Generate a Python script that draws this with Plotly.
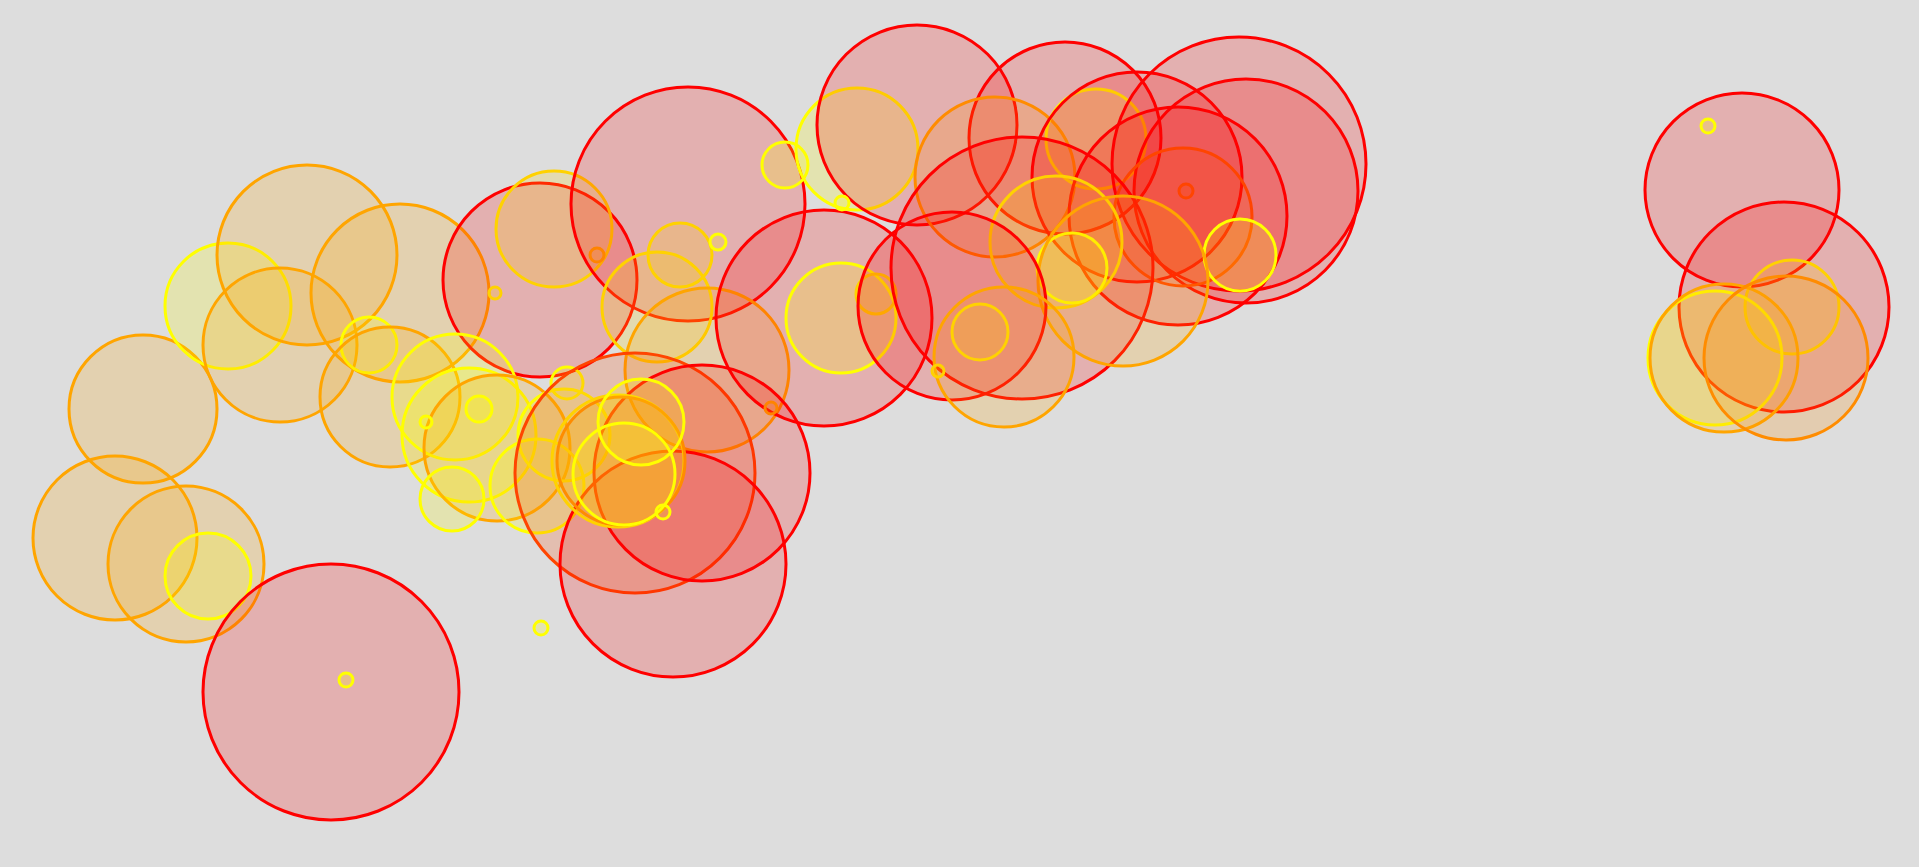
import plotly.graph_objects as go

# bubble positions (x, y), bubble radius value and tier of each bubble
x = [14.3, 11.5, 18.6, 20.8, 33.1, 34.6, 22.8, 30.7, 28.0, 40.0,
     36.9, 39.0, 54.0, 55.4, 59.7, 49.5, 68.8, 68.0, 71.8, 65.7,
     70.7, 82.4, 84.1, 87.6, 78.5, 85.7, 91.7, 106.5, 84.2, 99.5,
     109.6, 113.7, 123.9, 124.6, 117.8, 118.3, 118.6, 124.0, 102.2, 105.6,
     107.2, 112.3, 95.2, 100.4, 98.0, 93.8, 77.1, 45.5, 46.9, 49.7,
     47.9, 42.6, 45.2, 53.7, 56.7, 56.4, 63.5, 70.2, 67.3, 61.8,
     62.1, 64.1, 62.4, 66.3, 54.1, 174.2, 170.8, 178.4, 179.2, 171.5,
     172.4, 178.6]
y = [45.8, 32.9, 30.3, 29.1, 17.5, 18.7, 56.1, 61.2, 52.2, 57.4,
     52.2, 47.0, 58.7, 63.8, 61.2, 57.4, 66.3, 61.2, 62.5, 56.0,
     49.7, 54.9, 54.9, 57.3, 70.2, 71.8, 74.2, 72.9, 66.4, 69.0,
     72.8, 69.0, 70.3, 67.6, 65.1, 65.0, 67.6, 61.2, 59.9, 62.5,
     59.9, 58.6, 56.1, 51.0, 53.5, 49.6, 45.9, 47.0, 43.2, 41.9,
     45.8, 44.5, 36.8, 38.1, 48.4, 43.2, 39.4, 39.4, 30.3, 40.6,
     40.6, 44.5, 39.3, 35.5, 23.9, 67.7, 74.1, 56.0, 56.0, 50.9,
     50.9, 50.9]
value = [7.4, 8.2, 7.8, 4.3, 12.8, 0.7, 6.3, 9.0, 7.7, 8.9,
         2.8, 7.0, 9.7, 5.8, 0.7, 0.6, 11.7, 3.2, 0.8, 5.5,
         8.2, 10.8, 5.5, 2.0, 2.3, 6.1, 10.0, 9.6, 0.7, 8.0,
         5.0, 10.5, 12.7, 11.2, 10.9, 6.9, 0.7, 3.6, 13.1, 6.6,
         3.5, 8.5, 9.4, 7.0, 2.8, 0.6, 0.6, 6.3, 6.7, 7.3,
         1.3, 0.6, 3.2, 4.7, 1.6, 4.6, 12.0, 10.8, 11.3, 6.6,
         6.4, 4.3, 5.1, 0.7, 0.7, 9.7, 0.7, 10.5, 4.7, 6.7,
         7.4, 8.2]
tier = [3, 3, 3, 5, 0, 5, 5, 3, 3, 3,
        5, 3, 0, 4, 3, 4, 0, 4, 5, 4,
        3, 0, 5, 4, 5, 5, 0, 0, 5, 2,
        5, 0, 0, 0, 0, 1, 1, 5, 0, 4,
        5, 3, 0, 3, 4, 4, 3, 5, 5, 3,
        5, 5, 5, 5, 5, 5, 1, 0, 0, 4,
        2, 5, 5, 5, 5, 0, 5, 0, 4, 5,
        3, 2]

palette = {
    0: (255, 0, 0),
    1: (255, 69, 0),
    2: (255, 140, 0),
    3: (255, 165, 0),
    4: (255, 210, 0),
    5: (255, 255, 0),
}

line_colors = ['rgb(%d,%d,%d)' % palette[t] for t in tier]
fill_colors = ['rgba(%d,%d,%d,0.2)' % palette[t] for t in tier]

fig = go.Figure()

fig.add_trace(
    go.Scatter(
        x=x,
        y=y,
        mode='markers',
        marker=dict(
            size=value,
            sizemode='diameter',
            sizeref=0.05,
            opacity=1,
            color=fill_colors,
            line=dict(color=line_colors, width=3),
        ),
        hoverinfo='skip',
    )
)

fig.update_layout(
    width=1919,
    height=867,
    margin=dict(l=0, r=0, t=0, b=0),
    paper_bgcolor='#dddddd',
    plot_bgcolor='#dddddd',
    showlegend=False,
    xaxis=dict(range=[0, 191.9], visible=False, fixedrange=True),
    yaxis=dict(range=[0, 86.7], visible=False, fixedrange=True),
)

# no white page margin around the figure
fig.write_html(
    "out.html",
    config={'displayModeBar': False},
    post_script="document.body.style.margin='0';document.body.style.overflow='hidden';",
)
